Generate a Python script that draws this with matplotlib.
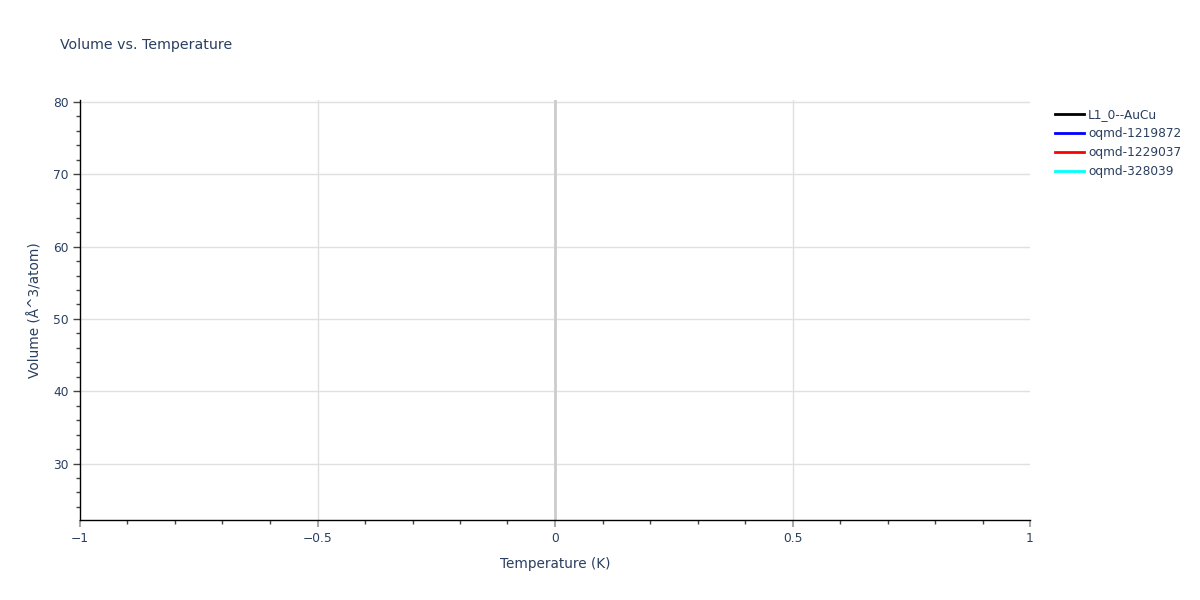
import matplotlib
matplotlib.use("Agg")
import matplotlib.pyplot as plt
from matplotlib.ticker import MultipleLocator

# Data (each series holds a single point at T = 0 K, so no line is visible)
series_names = ["L1_0--AuCu", "oqmd-1219872", "oqmd-1229037", "oqmd-328039"]
series_colors = ["black", "blue", "red", "cyan"]
temperatures = [[0.0], [0.0], [0.0], [0.0]]
volumes = [[16.1], [15.9], [16.3], [16.0]]

x_ticks = [-1, -0.5, 0, 0.5, 1]
x_tick_labels = ["\u22121", "\u22120.5", "0", "0.5", "1"]
y_ticks = [30, 40, 50, 60, 70, 80]

text_color = "#2a3f5f"
plt.rcParams['font.family'] = ['DejaVu Sans']

fig = plt.figure(figsize=(12, 6), dpi=100)
ax = fig.add_axes([80/1200, 80/600, 950/1200, 420/600])

for t, v, n, c in zip(temperatures, volumes, series_names, series_colors):
    ax.plot(t, v, color=c, linewidth=2, label=n)

ax.set_xlim(-1, 1)
ax.set_ylim(22.19, 80.28)
ax.set_xticks(x_ticks)
ax.set_xticklabels(x_tick_labels)
ax.set_yticks(y_ticks)
ax.xaxis.set_minor_locator(MultipleLocator(0.1))
ax.yaxis.set_minor_locator(MultipleLocator(2))

# grid lines (none at the x range edges, like the reference)
for xv in x_ticks:
    if -1 < xv < 1 and xv != 0:
        ax.axvline(xv, color='#e0e0e0', linewidth=1, zorder=0.5)
for yv in y_ticks:
    ax.axhline(yv, color='#e0e0e0', linewidth=1, zorder=0.5)
ax.axvline(0, color='#cccccc', linewidth=2, zorder=0.6)

for s in ['top', 'right']:
    ax.spines[s].set_visible(False)
for s in ['left', 'bottom']:
    ax.spines[s].set_color('black')
    ax.spines[s].set_linewidth(1)

ax.tick_params(axis='x', which='major', direction='out', length=5, width=1.5,
               color='#aaaaaa', labelcolor=text_color, labelsize=8.8, pad=4)
ax.tick_params(axis='y', which='major', direction='out', length=5, width=1,
               color='#444444', labelcolor=text_color, labelsize=8.8, pad=3)
ax.tick_params(which='minor', direction='out', length=3, width=1, color='#444444')

ax.set_xlabel("Temperature (K)", color=text_color, fontsize=9.8, labelpad=8)
ax.set_ylabel("Volume (\u00c5^3/atom)", color=text_color, fontsize=9.8, labelpad=8)

fig.text(60/1200, 1 - 45/600, "Volume vs. Temperature", color=text_color,
         fontsize=10.2, va='center', ha='left')

leg = ax.legend(loc='upper left', bbox_to_anchor=(1.021, 0.993), frameon=False,
                fontsize=8.7, handlelength=2.4, labelspacing=0.5,
                borderaxespad=0, handletextpad=0.35)
for txt in leg.get_texts():
    txt.set_color(text_color)

fig.savefig("out.png", dpi=100, facecolor='white')
